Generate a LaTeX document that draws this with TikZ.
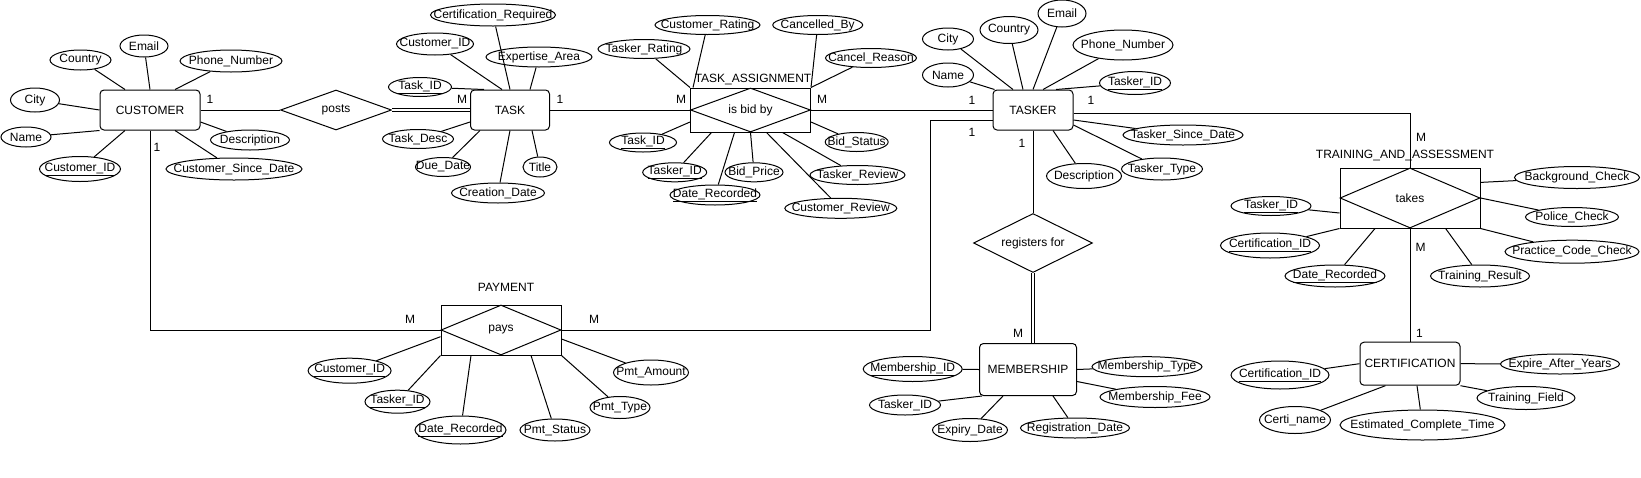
\documentclass[tikz,border=0pt]{standalone}
\usepackage{fontspec}
\setmainfont{Liberation Sans}
\usetikzlibrary{shapes.geometric}
\newcommand{\zw}[1]{\makebox[0pt]{#1}}
\tikzset{
  every node/.style={font=\fontsize{12}{14}\selectfont},
  ln/.style={line width=1pt},
  dbl/.style={double, double distance=2pt, line width=0.9pt},
  attr/.style 2 args={draw, ellipse, line width=1pt, inner sep=0pt, minimum width=#1pt, minimum height=#2pt},
  ent/.style 2 args={draw, rectangle, rounded corners=4pt, line width=1pt, inner sep=0pt, minimum width=#1pt, minimum height=#2pt},
  rel/.style 2 args={draw, diamond, line width=1pt, inner sep=0pt, minimum width=#1pt, minimum height=#2pt},
  abox/.style 2 args={draw, rectangle, line width=1pt, inner sep=0pt, minimum width=#1pt, minimum height=#2pt},
  card/.style={inner sep=0pt},
}
\begin{document}
\begin{tikzpicture}[x=1pt,y=-1pt]
\useasboundingbox (0,0) rectangle (1641,477);

% ---------- entities and relationships ----------
\node[ent={100}{40}] (cust) at (150,110) {CUSTOMER};
\node[rel={111}{40}] (posts) at (336,110) {\zw{posts}};
\node[ent={79}{40}] (task) at (510,110) {TASK};
\node[abox={120}{44}] (taBox) at (750.5,110) {};
\node[rel={120}{44}] (taD) at (750.5,110) {\zw{is bid by}};
\node (taLbl) at (753,79) {TASK\_ASSIGNMENT};
\node[ent={80}{40}] (tasker) at (1033,110) {TASKER};
\node[abox={120}{50}] (payBox) at (501,330) {};
\node[rel={120}{50}] (payD) at (501,330) {\zw{pays}};
\node (payLbl) at (506,287) {PAYMENT};
\node[rel={119}{59}] (reg) at (1033,243) {\zw{registers for}};
\node[ent={97}{52}] (mem) at (1028,369.5) {MEMBERSHIP};
\node[abox={140}{60}] (takesBox) at (1410,198) {};
\node[rel={140}{60}] (takesD) at (1410,198) {\zw{takes}};
\node (takesLbl) at (1405,155) {TRAINING\_AND\_ASSESSMENT};
\node[ent={100}{43}] (cert) at (1410,363.7) {CERTIFICATION};

% ---------- CUSTOMER attributes ----------
\node[attr={61}{20}] (cuCountry) at (80.5,60) {\zw{Country}};
\node[attr={48}{22}] (cuEmail) at (144,46) {\zw{Email}};
\node[attr={102}{22}] (cuPhone) at (231,61) {\zw{Phone\_Number}};
\node[attr={49}{24}] (cuCity) at (35,100) {\zw{City}};
\node[attr={50}{20}] (cuName) at (26,137) {\zw{Name}};
\node[attr={81}{25}] (cuID) at (80,169) {\zw{\underline{Customer\_ID}}};
\node[attr={79}{20}] (cuDesc) at (250,140) {\zw{Description}};
\node[attr={136}{22}] (cuSince) at (234,169) {\zw{Customer\_Since\_Date}};

% ---------- TASK attributes ----------
\node[attr={125}{22}] (tkCert) at (493,15) {\zw{Certification\_Required}};
\node[attr={77}{22}] (tkCust) at (435,44) {\zw{Customer\_ID}};
\node[attr={106}{20}] (tkExp) at (539,57) {\zw{Expertise\_Area}};
\node[attr={63}{19}] (tkID) at (420,87) {\zw{\underline{Task\_ID}}};
\node[attr={71}{19}] (tkDesc) at (418,139) {\zw{Task\_Desc}};
\node[attr={55}{19}] (tkDue) at (443,167) {\zw{Due\_Date}};
\node[attr={34}{20}] (tkTitle) at (540,167) {\zw{Title}};
\node[attr={93}{20}] (tkCre) at (498,193) {\zw{Creation\_Date}};

% ---------- TASK_ASSIGNMENT attributes ----------
\node[attr={105}{19}] (taCR) at (707.5,25) {\zw{Customer\_Rating}};
\node[attr={90}{19}] (taCB) at (817.7,25) {\zw{Cancelled\_By}};
\node[attr={92}{19}] (taTR) at (644,49) {\zw{Tasker\_Rating}};
\node[attr={91}{19}] (taCan) at (871,58) {\zw{Cancel\_Reason}};
\node[attr={67}{19}] (taTID) at (643,142.5) {\zw{\underline{Task\_ID}}};
\node[attr={64}{19}] (taKID) at (674.7,172.3) {\zw{\underline{Tasker\_ID}}};
\node[attr={58}{19}] (taBP) at (754,172.3) {\zw{Bid\_Price}};
\node[attr={90}{20}] (taDR) at (715,195) {\zw{\underline{Date\_Recorded}}};
\node[attr={63}{19}] (taBS) at (856.7,142) {\zw{Bid\_Status}};
\node[attr={95}{19}] (taTRv) at (857.5,175) {\zw{Tasker\_Review}};
\node[attr={112}{20}] (taCRv) at (840.8,208.3) {\zw{Customer\_Review}};

% ---------- TASKER attributes ----------
\node[attr={51}{22}] (trCity) at (948,39) {\zw{City}};
\node[attr={58}{27}] (trCountry) at (1009,30) {\zw{Country}};
\node[attr={48}{27}] (trEmail) at (1062,13.5) {\zw{Email}};
\node[attr={51}{24}] (trName) at (948,75) {\zw{Name}};
\node[attr={100}{30}] (trPhone) at (1123,45) {\zw{Phone\_Number}};
\node[attr={71}{23}] (trID) at (1135,83) {\zw{\underline{Tasker\_ID}}};
\node[attr={120}{20}] (trSince) at (1183,135) {\zw{Tasker\_Since\_Date}};
\node[attr={81}{22}] (trType) at (1162,169) {\zw{Tasker\_Type}};
\node[attr={75}{25}] (trDesc) at (1084,176) {\zw{Description}};

% ---------- PAYMENT attributes ----------
\node[attr={83}{25}] (paCID) at (349.6,370.7) {\zw{\underline{Customer\_ID}}};
\node[attr={65}{23}] (paTID) at (397.5,401.7) {\zw{\underline{Tasker\_ID}}};
\node[attr={91}{28}] (paDR) at (460.5,430) {\zw{\underline{Date\_Recorded}}};
\node[attr={70}{22}] (paPS) at (555,430) {\zw{Pmt\_Status}};
\node[attr={60}{22}] (paPT) at (620,407.5) {\zw{Pmt\_Type}};
\node[attr={75}{25}] (paPA) at (651,372.5) {\zw{Pmt\_Amount}};

% ---------- MEMBERSHIP attributes ----------
\node[attr={99}{25}] (meID) at (912.7,369) {\zw{\underline{Membership\_ID}}};
\node[attr={110}{20}] (meTy) at (1147,366.7) {\zw{Membership\_Type}};
\node[attr={110}{21}] (meFee) at (1155,397) {\zw{Membership\_Fee}};
\node[attr={71}{20}] (meTID) at (905,405) {\zw{Tasker\_ID}};
\node[attr={75}{23}] (meExp) at (970,430) {\zw{Expiry\_Date}};
\node[attr={109}{20}] (meReg) at (1075,428) {\zw{Registration\_Date}};

% ---------- TRAINING_AND_ASSESSMENT attributes ----------
\node[attr={125}{22}] (t2BG) at (1577,177.5) {\zw{Background\_Check}};
\node[attr={80}{19}] (t2TID) at (1271,206) {\zw{\underline{Tasker\_ID}}};
\node[attr={93}{19}] (t2PC) at (1572,217) {\zw{Police\_Check}};
\node[attr={99}{25}] (t2CID) at (1270,245.5) {\zw{\underline{Certification\_ID}}};
\node[attr={100}{22}] (t2DR) at (1335,276) {\zw{\underline{Date\_Recorded}}};
\node[attr={99}{22}] (t2TR) at (1480,276) {\zw{Training\_Result}};
\node[attr={134}{23}] (t2PCC) at (1572,251.7) {\zw{Practice\_Code\_Check}};

% ---------- CERTIFICATION attributes ----------
\node[attr={119}{20}] (ceEx) at (1560,364) {\zw{Expire\_After\_Years}};
\node[attr={98}{28}] (ceID) at (1280,375) {\zw{\underline{Certification\_ID}}};
\node[attr={98}{23}] (ceTF) at (1526,398) {\zw{Training\_Field}};
\node[attr={71}{27}] (ceCN) at (1295,420) {\zw{Certi\_name}};
\node[attr={165}{30}] (ceEC) at (1422.5,425) {\zw{Estimated\_Complete\_Time}};

% ---------- cardinalities ----------
\node[card] (c1) at (210,99) {1};
\node[card] (c2) at (462,99) {M};
\node[card] (c3) at (157,147) {1};
\node[card] (c4) at (560,99) {1};
\node[card] (c5) at (681,99) {M};
\node[card] (c6) at (822,99) {M};
\node[card] (c7) at (972,100) {1};
\node[card] (c8) at (972,132) {1};
\node[card] (c9) at (1022,143) {1};
\node[card] (c10) at (1091,100) {1};
\node[card] (c11) at (1421,137) {M};
\node[card] (c12) at (1420.5,247) {M};
\node[card] (c13) at (1419.5,333) {1};
\node[card] (c14) at (1018,333) {M};
\node[card] (c15) at (410,319) {M};
\node[card] (c16) at (594,319) {M};

% ---------- relationship connectors ----------
\draw[ln] (cust.east) -- (posts.west);
\draw[dbl] (posts.east) -- (task.west);
\draw[ln] (task.east) -- (taBox.west);
\draw[ln] (taBox.east) -- (tasker.west);
\draw[ln] (cust.south) |- (payBox.west);
\coordinate (bendP) at (930,330);
\draw[ln] (payBox.east) -- (bendP) |- ([yshift=-10pt]tasker.west);
\draw[ln] ([yshift=-3pt]tasker.east) -| (takesBox.north);
\draw[ln] (tasker.south) -- (reg.north);
\draw[dbl] (reg.south) -- (reg.south |- mem.north);
\draw[ln] (takesBox.south) -- (cert.north);

% ---------- attribute connectors ----------
\draw[ln] (cuCountry) -- ([xshift=-25pt]cust.north);
\draw[ln] (cuEmail) -- (cust.north);
\draw[ln] (cuPhone) -- ([xshift=25pt]cust.north);
\draw[ln] (cuCity) -- (cust.west);
\draw[ln] (cuName) -- (cust.south west);
\draw[ln] (cuID) -- ([xshift=-25pt]cust.south);
\draw[ln] (cuDesc) -- ([yshift=-12pt]cust.east);
\draw[ln] (cuSince) -- ([xshift=25pt]cust.south);

\draw[ln] (tkCert) -- (task.north);
\draw[ln] (tkCust) -- ([xshift=-8pt]task.north);
\draw[ln] (tkExp) -- ([xshift=20pt]task.north);
\draw[ln] (tkID) -- ([xshift=-26pt]task.north);
\draw[ln] (tkDesc) -- ([yshift=-12pt]task.west);
\draw[ln] (tkDue) -- ([xshift=-30pt]task.south);
\draw[ln] (tkCre) -- (task.south);
\draw[ln] (tkTitle) -- ([xshift=22pt]task.south);

\draw[ln] (taTR) -- (taBox.north west);
\draw[ln] (taCR) -- ([xshift=3pt]taBox.north west);
\draw[ln] (taCB) -- (taBox.north east);
\draw[ln] (taCan) -- (taBox.north east);
\draw[ln] (taTID) -- ([yshift=-12pt]taBox.west);
\draw[ln] (taKID) -- ([xshift=-39pt]taBox.south);
\draw[ln] (taDR) -- ([xshift=-16pt]taBox.south);
\draw[ln] (taBP) -- (taBox.south);
\draw[ln] (taCRv) -- ([xshift=16pt]taBox.south);
\draw[ln] (taTRv) -- ([xshift=32pt]taBox.south);
\draw[ln] (taBS) -- ([yshift=-12pt]taBox.east);

\draw[ln] (trCity) -- ([xshift=-20pt]tasker.north);
\draw[ln] (trCountry) -- ([xshift=-10pt]tasker.north);
\draw[ln] (trEmail) -- (tasker.north);
\draw[ln] (trName) -- ([xshift=2pt]tasker.north west);
\draw[ln] (trPhone) -- ([xshift=10pt]tasker.north);
\draw[ln] (trID) -- ([xshift=23pt]tasker.north);
\draw[ln] (trSince) -- ([yshift=-10pt]tasker.east);
\draw[ln] (trType) -- ([yshift=-15pt]tasker.east);
\draw[ln] (trDesc) -- ([xshift=20pt]tasker.south);

\draw[ln] (paCID) -- ([yshift=-6.7pt]payBox.west);
\draw[ln] (paTID) -- (payBox.south west);
\draw[ln] (paDR) -- ([xshift=-30pt]payBox.south);
\draw[ln] (paPS) -- ([xshift=30pt]payBox.south);
\draw[ln] (paPT) -- (payBox.south east);
\draw[ln] (paPA) -- ([yshift=-9pt]payBox.east);

\draw[ln] (meID) -- (mem.west);
\draw[ln] (meTy) -- (mem.east);
\draw[ln] (meFee) -- ([yshift=-12pt]mem.east);
\draw[ln] (meTID) -- ([xshift=3pt]mem.south west);
\draw[ln] (meExp) -- ([xshift=-25pt]mem.south);
\draw[ln] (meReg) -- ([xshift=25pt]mem.south);

\draw[ln] (t2BG) -- ([yshift=15.6pt]takesBox.east);
\draw[ln] (t2TID) -- ([yshift=-15pt]takesBox.west);
\draw[ln] (t2PC) -- (takesD.east);
\draw[ln] (t2CID) -- (takesBox.south west);
\draw[ln] (t2DR) -- ([xshift=-35pt]takesBox.south);
\draw[ln] (t2TR) -- ([xshift=35.6pt]takesBox.south);
\draw[ln] (t2PCC) -- (takesBox.south east);

\draw[ln] (ceEx) -- (cert.east);
\draw[ln] (ceID) -- (cert.west);
\draw[ln] (ceTF) -- (cert.south east);
\draw[ln] (ceCN) -- ([xshift=-24.6pt]cert.south);
\draw[ln] (ceEC) -- ([xshift=7pt]cert.south);
\end{tikzpicture}
\end{document}
